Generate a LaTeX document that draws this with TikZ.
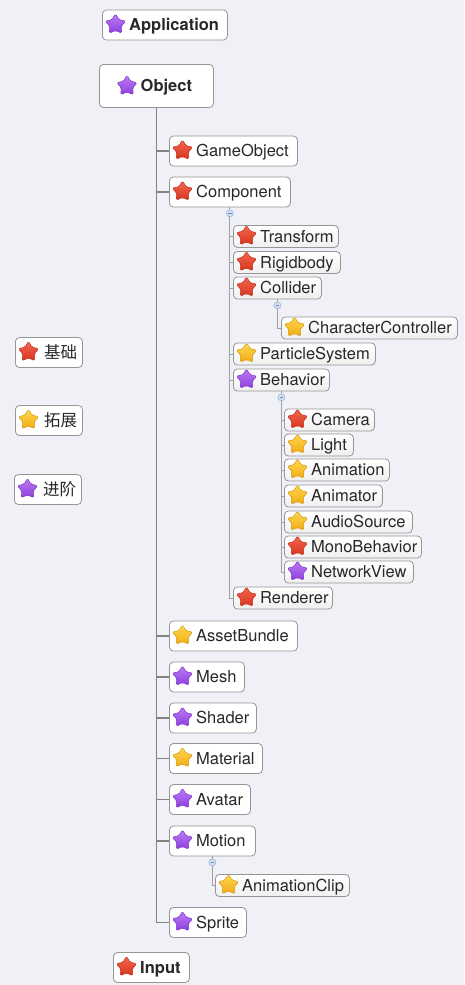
\documentclass[tikz,border=0pt]{standalone}
\usepackage{fontspec}
\setmainfont{TeX Gyre Heros}
\newfontfamily\cjk{Noto Sans CJK SC}
\usetikzlibrary{shapes.geometric}

\definecolor{bgcol}{RGB}{240,241,247}
\definecolor{txtcol}{RGB}{40,40,40}
\definecolor{boxline}{RGB}{150,150,150}
\definecolor{redtop}{RGB}{246,104,80}
\definecolor{redbot}{RGB}{214,52,30}
\definecolor{redline}{RGB}{190,45,28}
\definecolor{yeltop}{RGB}{255,218,80}
\definecolor{yelbot}{RGB}{242,170,20}
\definecolor{yelline}{RGB}{214,150,16}
\definecolor{purtop}{RGB}{190,125,246}
\definecolor{purbot}{RGB}{140,62,220}
\definecolor{purline}{RGB}{124,50,200}
\definecolor{trunkcol}{RGB}{130,130,130}
\definecolor{branchcol}{RGB}{160,160,160}
\definecolor{foldfill}{RGB}{214,224,244}
\definecolor{foldline}{RGB}{160,178,220}
\definecolor{foldsign}{RGB}{110,130,190}

\tikzset{
  box/.style={draw=boxline, rounded corners=4pt, fill=white, anchor=west, inner sep=0, line width=0.8},
  bigbox/.style={box, minimum height=30},
  smallbox/.style={box, minimum height=22, top color=white, bottom color=gray!12},
  lbl/.style={anchor=west, inner sep=0, text height=11.8, text depth=0, text=txtcol,
    font=\fontsize{16.5}{18}\selectfont},
  starbase/.style={star, star points=5, star point ratio=1.9, minimum size=22, inner sep=0,
    rounded corners=1.8pt, line width=0.5},
  stred/.style={starbase, top color=redtop, bottom color=redbot, draw=redline},
  styellow/.style={starbase, top color=yeltop, bottom color=yelbot, draw=yelline},
  stpurple/.style={starbase, top color=purtop, bottom color=purbot, draw=purline},
  trunk/.style={draw=trunkcol, line width=1.3},
  branch/.style={draw=branchcol, line width=1},
  fold/.style={circle, minimum size=7, inner sep=0, fill=foldfill, draw=foldline, line width=0.6,
    path picture={\draw[foldsign, line width=0.6]
      ([xshift=-1.8]path picture bounding box.center) -- ([xshift=1.8]path picture bounding box.center);}}
}

% 方框 + 星标 + 文字
\newcommand{\topic}[8][27]{%
  \node[#2, minimum width=#6] (#3) at (#4,#5) {};
  \node[st#7] at ([xshift=13.5,yshift=0.5]#3.west) {};
  \node[lbl] at ([xshift=#1]#3.west) {#8};
}

\begin{document}
\begin{tikzpicture}[x=1pt, y=-1pt]
  \fill[bgcol] (0,0) rectangle (464,985);
  \useasboundingbox (0,0) rectangle (464,985);

  % 顶部
  \topic{bigbox}{Application}{102}{25}{125}{purple}{\textbf{Application}}
  \node[bigbox, minimum width=114, minimum height=43] (Object) at (99,86) {};
  \node[stpurple] at ([xshift=28]Object.west) {};
  \node[lbl] at ([xshift=41.5]Object.west) {\textbf{Object}};

  % Object 的子节点
  \topic{bigbox}{GameObject}{169}{151}{128}{red}{GameObject}
  \topic{bigbox}{Component}{169}{192}{121}{red}{Component}
  \topic{bigbox}{AssetBundle}{169}{636}{128}{yellow}{AssetBundle}
  \topic{bigbox}{Mesh}{169}{677}{75}{purple}{Mesh}
  \topic{bigbox}{Shader}{169}{718}{87}{purple}{Shader}
  \topic{bigbox}{Material}{169}{758.5}{93}{yellow}{Material}
  \topic{bigbox}{Avatar}{169}{799.5}{81}{purple}{Avatar}
  \topic{bigbox}{Motion}{169}{841}{86}{purple}{Motion}
  \topic{bigbox}{Sprite}{169}{922.5}{77}{purple}{Sprite}

  % Component 的子节点
  \topic{smallbox}{Transform}{233}{236.5}{105}{red}{Transform}
  \topic{smallbox}{Rigidbody}{233}{262.5}{107}{red}{Rigidbody}
  \topic{smallbox}{Collider}{233}{288}{88}{red}{Collider}
  \topic{smallbox}{CharacterController}{281}{328}{176}{yellow}{CharacterController}
  \topic{smallbox}{ParticleSystem}{233}{354}{142}{yellow}{ParticleSystem}
  \topic{smallbox}{Behavior}{233}{380}{96}{purple}{Behavior}
  \topic{smallbox}{Renderer}{233}{598}{99}{red}{Renderer}

  % Behavior 的子节点
  \topic{smallbox}{Camera}{284}{420}{90}{red}{Camera}
  \topic{smallbox}{Light}{284}{445}{69}{yellow}{Light}
  \topic{smallbox}{Animation}{284}{470}{105}{yellow}{Animation}
  \topic{smallbox}{Animator}{284}{496}{98}{yellow}{Animator}
  \topic{smallbox}{AudioSource}{284}{522}{128}{yellow}{AudioSource}
  \topic{smallbox}{MonoBehavior}{284}{547}{137}{red}{MonoBehavior}
  \topic{smallbox}{NetworkView}{284}{572}{129}{purple}{NetworkView}

  \topic{smallbox}{AnimationClip}{215}{885.5}{134}{yellow}{AnimationClip}
  \topic{bigbox}{Input}{113}{967.5}{76}{red}{\textbf{Input}}

  % 图例
  \topic[29]{bigbox}{Basic}{15}{352.5}{67}{red}{\cjk 基础}
  \topic[29]{bigbox}{Extend}{15}{420.5}{67}{yellow}{\cjk 拓展}
  \topic[29]{bigbox}{Advanced}{14}{489.5}{67}{purple}{\cjk 进阶}

  % 连线
  \foreach \n in {GameObject,Component,AssetBundle,Mesh,Shader,Material,Avatar,Motion,Sprite}
    \draw[trunk] (Object.south) |- (\n.west);
  \foreach \n in {Transform,Rigidbody,Collider,ParticleSystem,Behavior,Renderer}
    \draw[branch] (Component.south) |- (\n.west);
  \draw[branch] (Collider.south) |- (CharacterController.west);
  \foreach \n in {Camera,Light,Animation,Animator,AudioSource,MonoBehavior,NetworkView}
    \draw[branch] (Behavior.south) |- (\n.west);
  \draw[branch] (Motion.south) |- (AnimationClip.west);

  % 折叠按钮
  \foreach \n in {Component,Collider,Behavior,Motion}
    \node[fold] at ([yshift=-6]\n.south) {};
\end{tikzpicture}
\end{document}
